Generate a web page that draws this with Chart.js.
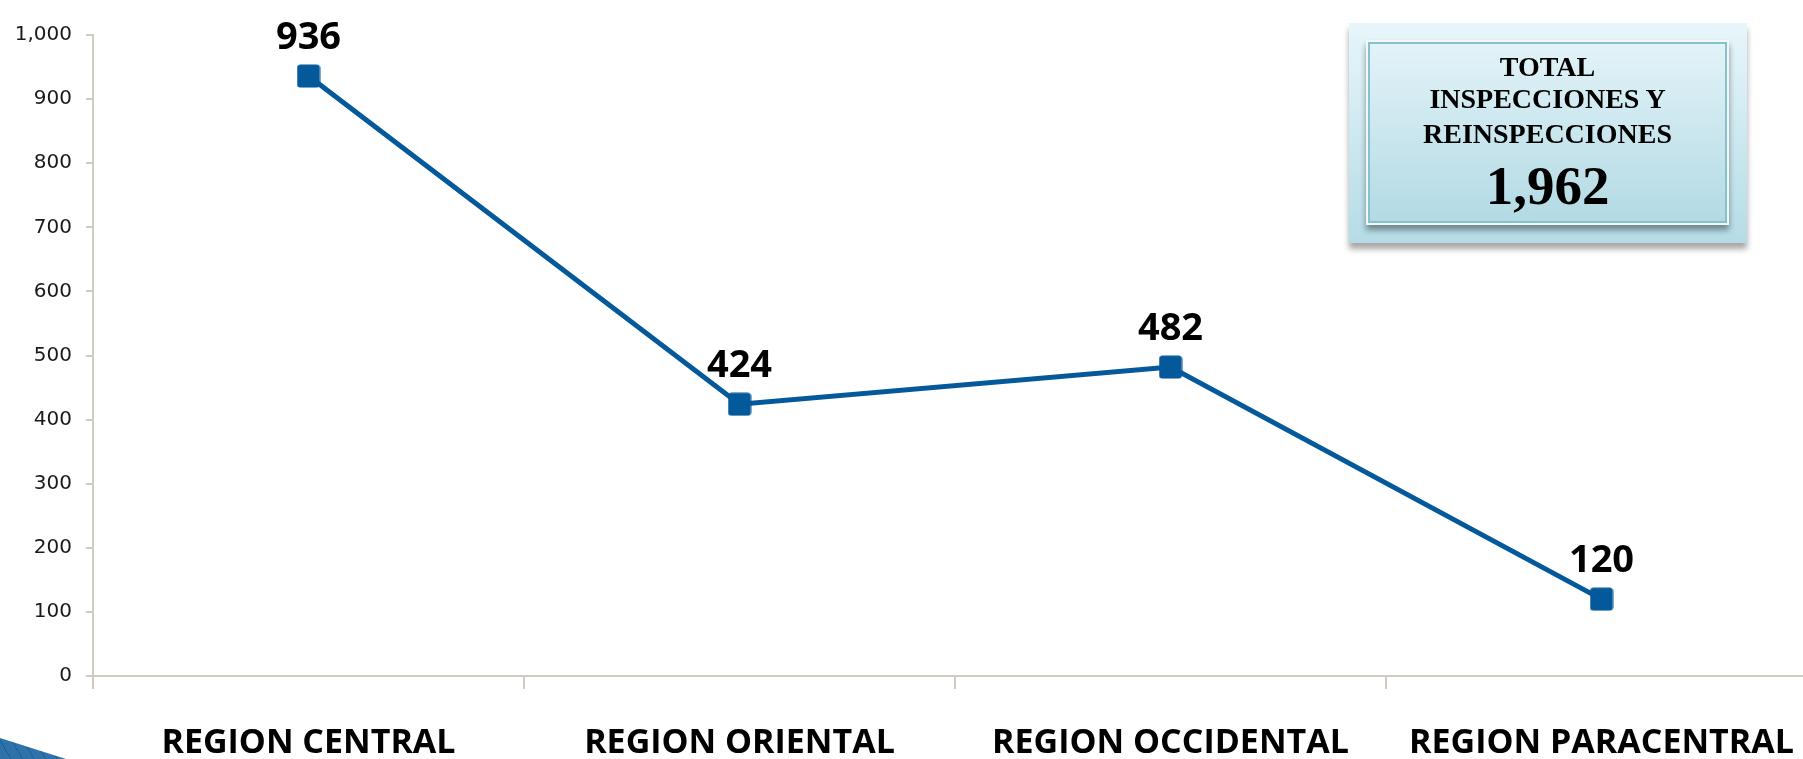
<!DOCTYPE html>
<html>
<head>
<meta charset="utf-8">
<script src="https://cdn.jsdelivr.net/npm/chart.js@4/dist/chart.umd.min.js"></script>
<style>
  html, body { margin: 0; padding: 0; background: #fff; overflow: hidden; }
  #wrap { position: absolute; left: 0; top: 0; width: 1834px; height: 759px; }
  .panel {
    position: absolute; left: 1349px; top: 23px; width: 398px; height: 220px;
    background: linear-gradient(#e7f6fa, #b5dce6);
    box-shadow: 0 6px 6px rgba(0,0,0,0.35);
  }
  .inner {
    position: absolute; left: 1368px; top: 42px; width: 355px; height: 177px;
    background: linear-gradient(#e2f3f8, #b3dae4);
    border: 2px solid #86c2ce;
    box-shadow: 0 0 0 2px #f3f7f8, 0 5px 6px 2px rgba(0,0,0,0.4);
  }
  .txt {
    position: absolute; left: 1368px; width: 359px; text-align: center;
    font-family: "Liberation Serif", "Times New Roman", serif; font-weight: bold; color: #000;
    white-space: nowrap;
  }
  .small { font-size: 28px; line-height: 28px; }
  .big { font-size: 55px; line-height: 55px; }
  .swoosh {
    position: absolute; left: 0; top: 738px; width: 66px; height: 21px;
    background: repeating-linear-gradient(60deg, #2d72ab 0 9px, #1f5f95 9px 10px);
    clip-path: polygon(0 0, 100% 100%, 0 100%);
  }
</style>
</head>
<body>
<div id="wrap"><canvas id="chart" width="1834" height="759"></canvas></div>
<div class="panel"></div>
<div class="inner"></div>
<div class="txt small" style="top:53px">TOTAL</div>
<div class="txt small" style="top:85px">INSPECCIONES Y</div>
<div class="txt small" style="top:120px">REINSPECCIONES</div>
<div class="txt big" style="top:158px">1,962</div>
<div class="swoosh"></div>
<script>
// datos
const regiones = ["REGION CENTRAL", "REGION ORIENTAL", "REGION OCCIDENTAL", "REGION PARACENTRAL"];
const inspecciones = [936, 424, 482, 120];
const yTicks = [0, 100, 200, 300, 400, 500, 600, 700, 800, 900, 1000];

const azul = "#04599a";
const ejeColor = "#d0cbc0";

// marcador cuadrado con esquinas algo redondeadas
function makeMarker() {
  const c = document.createElement("canvas");
  c.width = 24; c.height = 24;
  const g = c.getContext("2d");
  g.fillStyle = azul;
  g.beginPath();
  g.roundRect(0.5, 0.5, 23, 23, 3.5);
  g.fill();
  return c;
}

// etiquetas de valor encima de los puntos
const valueLabels = {
  id: "valueLabels",
  afterDatasetsDraw(chart) {
    const ctx = chart.ctx;
    const meta = chart.getDatasetMeta(0);
    ctx.save();
    ctx.font = "bold 38px 'Open Sans'";
    ctx.fillStyle = "#000";
    ctx.textAlign = "center";
    ctx.textBaseline = "alphabetic";
    meta.data.forEach((pt, i) => {
      ctx.fillText(String(inspecciones[i]), pt.x, pt.y - 27);
    });
    ctx.restore();
  }
};

new Chart(document.getElementById("chart"), {
  type: "line",
  data: {
    labels: regiones,
    datasets: [{
      data: inspecciones,
      borderColor: azul,
      borderWidth: 5,
      tension: 0,
      pointStyle: makeMarker(),
      pointRadius: 12,
      pointHoverRadius: 12
    }]
  },
  options: {
    responsive: false,
    animation: false,
    layout: { padding: { top: 35, left: 0, right: 0, bottom: 0 } },
    plugins: {
      legend: { display: false },
      tooltip: { enabled: false }
    },
    scales: {
      x: {
        offset: true,
        grid: { display: true, offset: true, drawOnChartArea: false, color: ejeColor, lineWidth: 2, tickLength: 13 },
        border: { display: true, color: ejeColor, width: 2 },
        ticks: {
          font: { family: "Open Sans", weight: "bold", size: 34 },
          color: "#000",
          padding: 34,
          maxRotation: 0,
          autoSkip: false
        },
        afterFit(scale) { scale.height = 83; }
      },
      y: {
        min: 0,
        max: 1000,
        afterBuildTicks(scale) { scale.ticks = yTicks.map(v => ({ value: v })); },
        grid: { display: true, drawOnChartArea: false, color: ejeColor, lineWidth: 2, tickLength: 7 },
        border: { display: true, color: ejeColor, width: 2 },
        ticks: {
          font: { family: "DejaVu Sans", size: 20 },
          color: "#1a1a1a",
          padding: 14,
          callback: v => v.toLocaleString("en-US")
        },
        afterFit(scale) { scale.width = 93; }
      }
    }
  },
  plugins: [valueLabels]
});
</script>
</body>
</html>
